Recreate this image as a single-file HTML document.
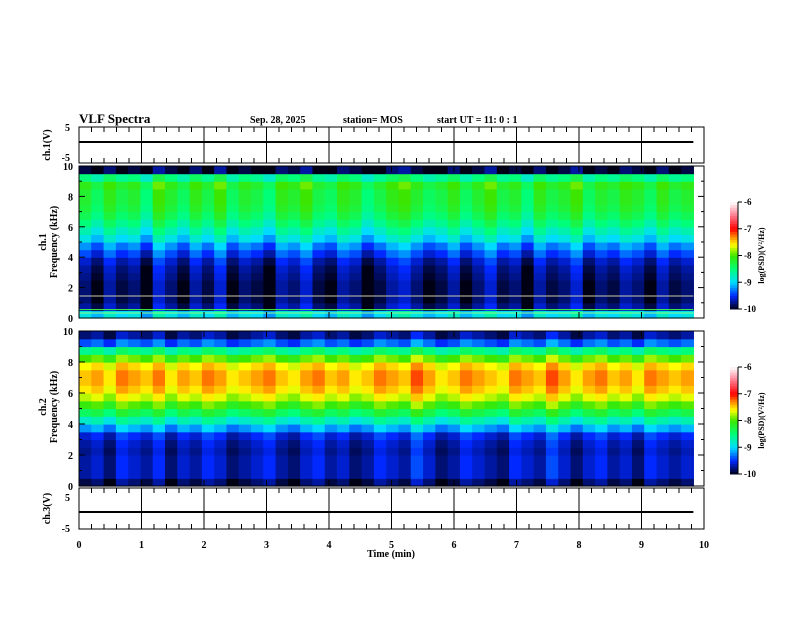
<!DOCTYPE html>
<html><head><meta charset="utf-8"><style>
body{margin:0;background:#fff;}
svg text{font-family:"Liberation Serif",serif;font-weight:bold;font-size:10px;fill:#000;}
</style></head><body>
<svg id="s" width="792" height="612" xmlns="http://www.w3.org/2000/svg">
<g id="heat"></g><g id="ax"></g>
<text x="79" y="123" style="font-size:13px">VLF Spectra</text>
<text x="250" y="123">Sep. 28, 2025</text>
<text x="343" y="123">station= MOS</text>
<text x="437" y="123">start  UT =   11: 0  : 1</text>
<text x="391" y="557" text-anchor="middle">Time  (min)</text>
</svg>
<script>
// data arrays
const freqProfile1 = [-9.0,-9.8,-9.9,-9.9,-9.9,-9.85,-9.8,-9.7,-9.5,-9.3,-9.0,-8.8,-8.6,-8.45,-8.35,-8.3,-8.3,-8.2,-8.6,-10];
const freqProfile2 = [-9.9,-9.7,-9.7,-9.7,-9.75,-9.7,-9.6,-9.2,-8.8,-8.4,-8.05,-7.75,-7.55,-7.45,-7.45,-7.6,-8.0,-8.6,-9.4,-9.8];
const timeMod1 = [0.1,-0.1,0.2,0,0.1,-0.2,0.3,0.1,-0.1,0.2,0,0.3,-0.1,0.1,0,-0.2,0.2,0.1,0.3,0,-0.1,0.2,0.1,-0.2,0,0.2,0.3,0.1,-0.1,0,0.2,-0.1,0.1,0.3,0,0.1,-0.2,0.2,0,0.1,0.3,-0.1,0.1,0,0.2,0.1,-0.1,0.2,0,0.1];
const timeMod2 = [0,0.1,-0.1,0.2,0.1,0,0.2,-0.1,0.1,0,0.2,0.1,-0.1,0,0.1,0.2,0,-0.1,0.1,0.2,0,0.1,-0.1,0,0.2,0.1,0,0.3,0.1,-0.1,0,0.2,0.1,0,-0.1,0.2,0.1,0,0.3,0.1,-0.1,0.1,0.2,0,0.1,-0.1,0.2,0.1,0,0.1];
const xTicks = [0,1,2,3,4,5,6,7,8,9,10];
const fTicks = [0,2,4,6,8,10];
const cTicks = [-10,-9,-8,-7,-6];
const tEnd = 9.83;

const NS="http://www.w3.org/2000/svg";
const heat=document.getElementById('heat'), ax=document.getElementById('ax');
function el(tag,attrs,parent,txt){const e=document.createElementNS(NS,tag);for(const k in attrs)e.setAttribute(k,attrs[k]);if(txt!==undefined)e.textContent=txt;parent.appendChild(e);return e;}
const X0=79,X1=704;
const xS=t=>X0+(X1-X0)*t/10;
const stops=[[-10,[0,0,20]],[-9.5,[0,40,255]],[-9,[0,220,255]],[-8.5,[0,255,120]],[-8,[60,230,0]],[-7.6,[255,255,0]],[-7.3,[255,140,0]],[-7,[255,0,0]],[-6.5,[255,120,140]],[-6,[255,255,255]]];
function cmap(v){v=Math.max(-10,Math.min(-6,v));for(let i=1;i<stops.length;i++){if(v<=stops[i][0]){const a=stops[i-1],b=stops[i],f=(v-a[0])/(b[0]-a[0]);const c=a[1].map((q,j)=>Math.round(q+(b[1][j]-q)*f));return `rgb(${c})`;}}return 'rgb(255,255,255)';}

function spectro(top,bot,prof,mod,name){
  const yS=f=>bot-(bot-top)*f/10;
  const nf=prof.length,nt=mod.length,dt=tEnd/nt,df=10/nf;
  for(let i=0;i<nt;i++)for(let j=0;j<nf;j++){
    const r=el('rect',{x:xS(i*dt),y:yS((j+1)*df),width:xS(dt)-X0+0.6,height:yS(0)-yS(df)+0.6,fill:cmap(prof[j]+mod[i])},heat);
    
    
  }
  const b=el('rect',{x:X0,y:top,width:X1-X0,height:bot-top,fill:'none',stroke:'#000','stroke-width':1},ax);
  
  
  fTicks.forEach(f=>{el('line',{x1:X0,x2:X0+6,y1:yS(f),y2:yS(f),stroke:'#000'},ax);el('line',{x1:X1,x2:X1-6,y1:yS(f),y2:yS(f),stroke:'#000'},ax);
    const t=el('text',{x:73,y:yS(f)+4,'text-anchor':'end'},ax,String(f));});
  for(let f=1;f<10;f+=2){el('line',{x1:X0,x2:X0+3,y1:yS(f),y2:yS(f),stroke:'#000'},ax);el('line',{x1:X1,x2:X1-3,y1:yS(f),y2:yS(f),stroke:'#000'},ax);}
  xTicks.forEach(t=>{el('line',{x1:xS(t),x2:xS(t),y1:top,y2:top+6,stroke:'#000'},ax);el('line',{x1:xS(t),x2:xS(t),y1:bot,y2:bot-6,stroke:'#000'},ax);});
  return yS;
}
function wave(top,bot,zero,name,label){
  const r=el('rect',{x:X0,y:top,width:X1-X0,height:bot-top,fill:'#fff',stroke:'#000'},ax);
  
  
  const l=el('line',{x1:X0,x2:xS(tEnd),y1:zero,y2:zero,stroke:'#000','stroke-width':2},ax);
  
  
  for(let t=0;t<=10.001;t+=0.2){const big=Math.abs(t-Math.round(t))<0.01;const h=big?bot-top:5;
    el('line',{x1:xS(t),x2:xS(t),y1:top,y2:top+h,stroke:'#000'},ax);el('line',{x1:xS(t),x2:xS(t),y1:bot,y2:bot-5,stroke:'#000'},ax);}
  const t=el('text',{transform:`translate(50,${(top+bot)/2}) rotate(-90)`,'text-anchor':'middle'},ax,label);
  
  
}
function cbar(top,bot,name){
  const n=40;for(let i=0;i<n;i++){const v=-10+4*(i+0.5)/n;el('rect',{x:730,y:bot-(bot-top)*(i+1)/n,width:8,height:(bot-top)/n+0.5,fill:cmap(v)},heat);}
  el('line',{x1:738,x2:738,y1:top,y2:bot,stroke:'#000'},ax);
  cTicks.forEach(c=>{const y=bot-(bot-top)*(c+10)/4;el('line',{x1:738,x2:742,y1:y,y2:y,stroke:'#000'},ax);
    const t=el('text',{x:744,y:y+3,style:'font-size:9px'},ax,String(c));});
  const t=el('text',{transform:`translate(764,${(top+bot)/2}) rotate(-90)`,'text-anchor':'middle',style:'font-size:8px'},ax,'log(PSD)(V²/Hz)');
  
  
}
wave(127,163,142,'ch1-wave','ch.1(V)');
el('text',{x:70,y:131,'text-anchor':'end'},ax,'5');el('text',{x:70,y:161,'text-anchor':'end'},ax,'-5');
const y1=spectro(166,318,freqProfile1,timeMod1,'ch1-spectrogram');
[[1.45,'#ccccaa'],[0.55,'#44ff44'],[0.33,'#88ff88']].forEach(([f,c])=>el('line',{x1:X0,x2:xS(tEnd),y1:y1(f),y2:y1(f),stroke:c,'stroke-width':1},heat));
const y2=spectro(331,486,freqProfile2,timeMod2,'ch2-spectrogram');
wave(488,529,512,'ch3-wave','ch.3(V)');
el('text',{x:70,y:501,'text-anchor':'end'},ax,'5');el('text',{x:70,y:532,'text-anchor':'end'},ax,'-5');
[['ch.1',242],['ch.2',407]].forEach(([c,y])=>{el('text',{transform:`translate(46,${y}) rotate(-90)`,'text-anchor':'middle'},ax,c);el('text',{transform:`translate(57,${y}) rotate(-90)`,'text-anchor':'middle'},ax,'Frequency (kHz)');});
xTicks.forEach(t=>{const e=el('text',{x:xS(t),y:548,'text-anchor':'middle'},ax,String(t));});
cbar(202,309,'colorbar-1');cbar(367,474,'colorbar-2');
</script>
</body></html>
